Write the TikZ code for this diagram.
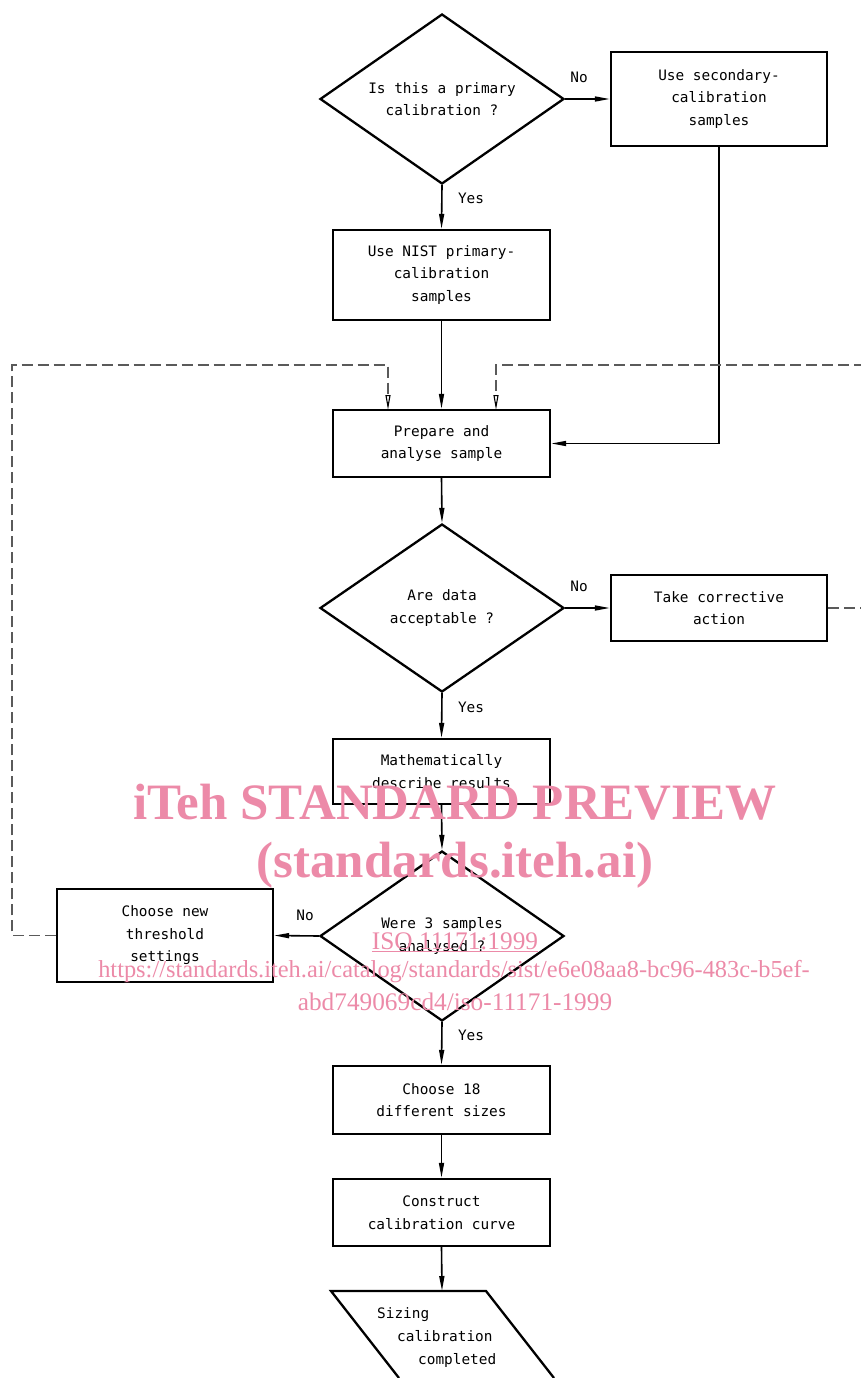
\documentclass[tikz,border=0pt]{standalone}
\usepackage{fontspec}
\usetikzlibrary{shapes.geometric,arrows.meta,calc}
\newfontfamily\isofont{DejaVu Sans Mono}
\newfontfamily\wmfont{Liberation Serif}
\definecolor{wm}{RGB}{236,138,168}
\definecolor{dashgray}{RGB}{90,90,90}
\begin{document}
\begin{tikzpicture}[x=1pt,y=-1pt,
  txt/.style={font=\isofont\fontsize{14.4}{22.5}\selectfont},
  box/.style={txt,draw,line width=2.3pt,rectangle,inner sep=0pt,align=center},
  dec/.style={txt,draw,line width=2.3pt,diamond,shape aspect=1.43,inner sep=0pt,align=center,minimum width=244pt,minimum height=170pt},
  conn/.style={line width=1.6pt,-{Triangle[length=15pt,width=5pt]}},
  loopline/.style={line width=1.1pt,draw=dashgray,dash pattern=on 11pt off 5pt,-{Triangle[length=15pt,width=5pt,open,fill=white,color=black,line width=1.1pt]}},
  lbl/.style={txt,inner sep=0pt},
  wmtext/.style={text=wm,inner sep=0pt}
]
\useasboundingbox (0,0) rectangle (861,1378);
\clip (0,0) rectangle (861,1378);

% nodes
\node[dec] (q1) at (442,99) {Is this a primary\\calibration ?};
\node[box,minimum width=216pt,minimum height=94pt] (sec) at (719,99) {Use secondary-\\calibration\\samples};
\node[box,minimum width=217pt,minimum height=90pt] (nist) at (441.5,275) {Use NIST primary-\\calibration\\samples};
\node[box,minimum width=217pt,minimum height=67pt] (prep) at (441.5,443.5) {Prepare and\\analyse sample};
\node[dec,minimum height=168pt] (q2) at (442,608) {Are data\\acceptable ?};
\node[box,minimum width=216pt,minimum height=66pt] (corr) at (719,608) {Take corrective\\action};
\node[box,minimum width=217pt,minimum height=65pt] (math) at (441.5,771.5) {Mathematically\\describe results};
\node[dec] (q3) at (442,936) {Were 3 samples\\analysed ?};
\node[box,minimum width=216pt,minimum height=93pt] (thr) at (165,935.5) {Choose new\\threshold\\settings};
\node[box,minimum width=217pt,minimum height=68pt] (c18) at (441.5,1100) {Choose 18\\different sizes};
\node[box,minimum width=217pt,minimum height=67pt] (curve) at (441.5,1212.5) {Construct\\calibration curve};

% final parallelogram (cut by the page edge)
\coordinate (pTL) at (331,1291);
\coordinate (pTR) at (486,1291);
\coordinate (pBL) at (399,1378);
\coordinate (pBR) at (554,1378);
\coordinate (pTop) at (442,1291);
\draw[line width=2.3pt,line join=miter] (pBL) -- (pTL) -- (pTR) -- (pBR);
\node[lbl,anchor=base west] (s1) at (377,1318) {Sizing};
\node[lbl,anchor=base west] (s2) at (397,1341) {calibration};
\node[lbl,anchor=base west] (s3) at (418,1364) {completed};

% connectors
\draw[conn] (q1.east) -- (sec.west);
\draw[conn] (q1.south) -- (nist.north);
\draw[conn] (nist.south) -- (prep.north);
\draw[conn] (sec.south) |- (prep.east);
\draw[conn] (prep.south) -- (q2.north);
\draw[conn] (q2.east) -- (corr.west);
\draw[conn] (q2.south) -- (math.north);
\draw[conn] (math.south) -- (q3.north);
\draw[conn] (q3.west) -- (thr.east);
\draw[conn] (q3.south) -- (c18.north);
\draw[conn] (c18.south) -- (curve.north);
\draw[conn] (curve.south) -- (pTop);

\coordinate (pinL) at (388,410);
\coordinate (pinR) at (496,410);
\coordinate (loopL) at (12,365);
\coordinate (loopR) at (885,365);
\draw[loopline] (thr.west) -| (loopL) -| (pinL);
\draw[loopline] (corr.east) -| (loopR) -| (pinR);

% labels
\node[lbl] (n1) at (579,77) {No};
\node[lbl] (y1) at (471,198) {Yes};
\node[lbl] (n2) at (579,586) {No};
\node[lbl] (y2) at (471,707) {Yes};
\node[lbl] (n3) at (305,915) {No};
\node[lbl] (y3) at (471,1035) {Yes};

% watermark
\node[wmtext,anchor=base,font=\wmfont\bfseries\fontsize{51}{51}\selectfont] (w1) at (455,819) {iTeh STANDARD PREVIEW};
\node[wmtext,anchor=base,font=\wmfont\bfseries\fontsize{51}{51}\selectfont] (w2) at (455,877) {(standards.iteh.ai)};
\node[wmtext,anchor=base,font=\wmfont\fontsize{25.3}{25.3}\selectfont] (w3) at (455,949) {\underline{ISO 11171:1999}};
\node[wmtext,anchor=base,font=\wmfont\fontsize{24.4}{24.4}\selectfont] (w4) at (454,977) {https://standards.iteh.ai/catalog/standards/sist/e6e08aa8-bc96-483c-b5ef-};
\node[wmtext,anchor=base,font=\wmfont\fontsize{25.3}{25.3}\selectfont] (w5) at (455,1010) {abd749069cd4/iso-11171-1999};
\end{tikzpicture}
\end{document}
